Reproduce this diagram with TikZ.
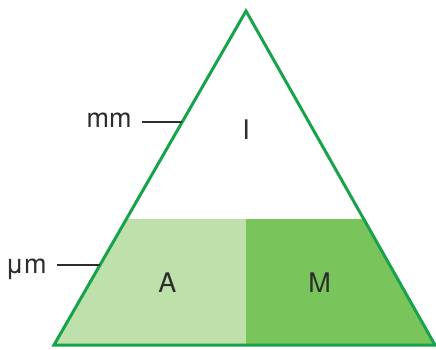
\documentclass[tikz,border=0pt]{standalone}
\usepackage{fontspec}
\setsansfont{TeX Gyre Heros}
\definecolor{edgegreen}{RGB}{22,163,74}
\definecolor{lightgreen}{RGB}{190,224,170}
\definecolor{darkgreen}{RGB}{122,196,92}
\definecolor{labelgray}{RGB}{45,45,45}
\tikzset{
  lbl/.style={font=\sffamily\fontsize{27}{30}\selectfont, text=labelgray, inner sep=0pt},
  leader/.style={draw=labelgray, line width=1.5pt}
}
\begin{document}
\begin{tikzpicture}[x=1pt, y=1pt]
  \useasboundingbox (0,0) rectangle (436,349);
  % corners of the triangle
  \coordinate (top) at (246,338);
  \coordinate (bl) at (54,4);
  \coordinate (br) at (435,4);
  \coordinate (ml) at (126.4,130);
  \coordinate (mr) at (363.7,130);
  \coordinate (mc) at (246,130);
  \coordinate (bc) at (246,4);
  \fill[lightgreen] (ml) -- (mc) -- (bc) -- (bl) -- cycle;
  \fill[darkgreen] (mc) -- (mr) -- (br) -- (bc) -- cycle;
  \draw[edgegreen, line width=3pt, line join=miter] (top) -- (br) -- (bl) -- cycle;
  % labels inside
  \node[lbl] (i) at (246,219) {I};
  \node[lbl] (a) at (167.5,66) {A};
  \node[lbl] (m) at (319.5,66) {M};
  % scale labels on the left
  \node[lbl, anchor=base east] (mm) at (131.7,221.7) {mm};
  \coordinate (mmtip) at (181.5,227);
  \draw[leader] ([xshift=10pt, yshift=5.3pt]mm.base east) -- (mmtip);
  \node[lbl, anchor=base east] (um) at (46.7,75.7) {μm};
  \coordinate (umtip) at (99.5,84);
  \draw[leader] ([xshift=10pt, yshift=8.3pt]um.base east) -- (umtip);
\end{tikzpicture}
\end{document}
